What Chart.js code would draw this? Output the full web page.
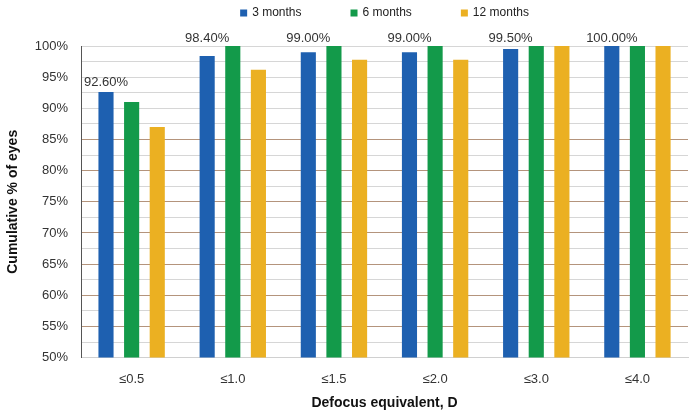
<!DOCTYPE html>
<html lang="en">
<head>
  <meta charset="UTF-8" />
  <title>Cumulative % of eyes by defocus equivalent</title>
  <style>
    body {
      margin: 0;
      padding: 0;
      background: #ffffff;
    }
    #wrap {
      width: 698px;
      height: 416px;
    }
  </style>
  <script src="https://cdn.jsdelivr.net/npm/chart.js"></script>
</head>
<body>
  <div id="wrap">
    <canvas id="chart"></canvas>
  </div>

  <script>
    const categories = ['≤0.5', '≤1.0', '≤1.5', '≤2.0', '≤3.0', '≤4.0'];
    const months3 = [92.6, 98.4, 99.0, 99.0, 99.5, 100.0];
    const months6 = [91.0, 100.0, 100.0, 100.0, 100.0, 100.0];
    const months12 = [87.0, 96.2, 97.8, 97.8, 100.0, 100.0];
    const labelText = ['92.60%', '98.40%', '99.00%', '99.00%', '99.50%', '100.00%'];

    const fontName = '"Liberation Sans", Arial, sans-serif';

    // labels above the 3 months bars
    const valueLabels = {
      id: 'valueLabels',
      afterDatasetsDraw(chart) {
        const ctx = chart.ctx;
        const meta = chart.getDatasetMeta(0);
        const top = chart.chartArea.top;
        ctx.save();
        ctx.font = '13px ' + fontName;
        ctx.fillStyle = '#333333';
        ctx.textAlign = 'center';
        ctx.textBaseline = 'bottom';
        meta.data.forEach((bar, i) => {
          let y = bar.y - 3;
          // bars close to the top: label sits just over the plot
          if (y < top + 20) y = top - 1;
          ctx.fillText(labelText[i], bar.x, y);
        });
        ctx.restore();
      }
    };

    // legend row at the top, wide gaps between the items
    const topLegend = {
      id: 'topLegend',
      afterDraw(chart) {
        const ctx = chart.ctx;
        const box = 7, gap = 5, between = 49, y = 13;
        ctx.save();
        ctx.font = '12px ' + fontName;
        const items = chart.data.datasets.map(ds => ({
          text: ds.label,
          color: ds.backgroundColor,
          w: box + gap + ctx.measureText(ds.label).width
        }));
        const total = items.reduce((s, it) => s + it.w, 0) + between * (items.length - 1);
        let x = (chart.chartArea.left + chart.chartArea.right) / 2 - total / 2;
        ctx.textBaseline = 'middle';
        ctx.textAlign = 'left';
        items.forEach(it => {
          ctx.fillStyle = it.color;
          ctx.fillRect(x, y - box / 2, box, box);
          ctx.fillStyle = '#222222';
          ctx.fillText(it.text, x + box + gap, y);
          x += it.w + between;
        });
        ctx.restore();
      }
    };

    const ctx = document.getElementById('chart').getContext('2d');
    new Chart(ctx, {
      type: 'bar',
      data: {
        labels: categories,
        datasets: [
          { label: '3 months', data: months3, backgroundColor: '#1e60b0' },
          { label: '6 months', data: months6, backgroundColor: '#139a4a' },
          { label: '12 months', data: months12, backgroundColor: '#ebb022' }
        ]
      },
      options: {
        responsive: true,
        maintainAspectRatio: false,
        animation: false,
        layout: { padding: { top: 46, right: 10, left: 5, bottom: 4 } },
        datasets: {
          bar: { barPercentage: 0.59, categoryPercentage: 0.76 }
        },
        plugins: {
          tooltip: { enabled: false },
          legend: { display: false }
        },
        scales: {
          x: {
            grid: { display: false },
            border: { color: '#d0d0d0' },
            ticks: {
              color: '#333333',
              padding: 6,
              font: { family: fontName, size: 13 }
            },
            title: {
              display: true,
              text: 'Defocus equivalent, D',
              color: '#111111',
              padding: { top: 2, bottom: 0 },
              font: { family: fontName, size: 14, weight: 'bold' }
            }
          },
          y: {
            min: 50,
            max: 100,
            border: { color: '#555555' },
            grid: {
              drawTicks: false,
              color: (c) => {
                const v = c.tick.value;
                if (v % 5 === 0 && v <= 85 && v > 50) return '#b4947c';
                return '#d6d6d6';
              }
            },
            ticks: {
              stepSize: 2.5,
              autoSkip: false,
              maxTicksLimit: 30,
              color: '#333333',
              padding: 13,
              font: { family: fontName, size: 13 },
              callback: (v) => (v % 5 === 0 ? v + '%' : '')
            },
            title: {
              display: true,
              text: 'Cumulative % of eyes',
              color: '#111111',
              padding: { top: 0, bottom: 0 },
              font: { family: fontName, size: 14, weight: 'bold' }
            }
          }
        }
      },
      plugins: [valueLabels, topLegend]
    });
  </script>
</body>
</html>
